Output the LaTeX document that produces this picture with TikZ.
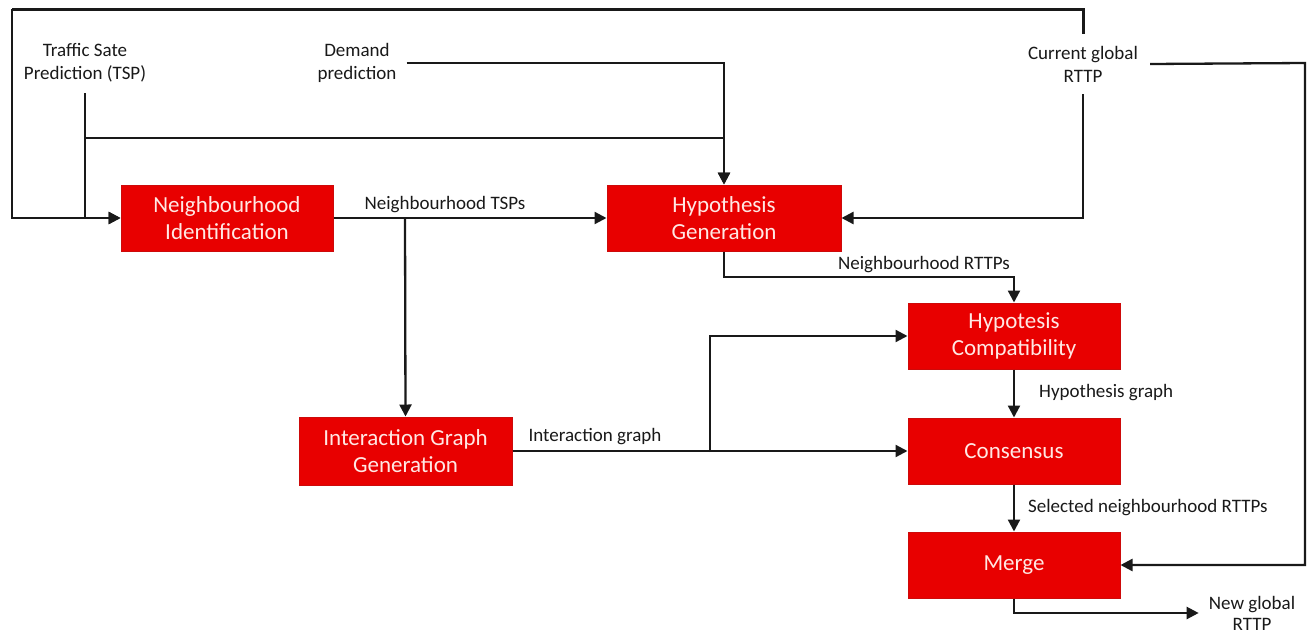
\documentclass[tikz,border=0pt]{standalone}
\usepackage{fontspec}
\setmainfont{Carlito}
\usetikzlibrary{arrows.meta}
\definecolor{boxred}{RGB}{232,0,0}
\definecolor{boxedge}{RGB}{205,10,10}
\definecolor{boxtext}{RGB}{255,232,228}
\definecolor{ink}{RGB}{25,25,25}
\begin{document}
\begin{tikzpicture}[x=1pt,y=-1pt,
  stage/.style={rectangle,fill=boxred,draw=boxedge,line width=1pt,
    text=boxtext,align=center,inner sep=0pt,
    font=\fontsize{23}{27}\selectfont},
  note/.style={align=center,text=ink,inner sep=0pt,
    font=\fontsize{19}{23}\selectfont},
  flow/.style={draw=ink,line width=2.3pt},
  arr/.style={flow,-{Triangle[length=12pt,width=12pt]}},
  loopline/.style={draw=ink,line width=3pt}
]
\useasboundingbox (0,0) rectangle (1312,635);
\fill[white] (0,0) rectangle (1312,635);

% processing stages
\node[stage,minimum width=212pt,minimum height=66pt] (ni) at (227,218) {Neighbourhood\\Identification};
\node[stage,minimum width=234pt,minimum height=66pt] (hg) at (724,218) {Hypothesis\\Generation};
\node[stage,minimum width=213pt,minimum height=68pt] (ig) at (405.5,451) {Interaction Graph\\Generation};
\node[stage,minimum width=212pt,minimum height=66pt] (hc) at (1014,336) {Hypotesis\\Compatibility};
\node[stage,minimum width=212pt,minimum height=66pt] (co) at (1014,451) {Consensus};
\node[stage,minimum width=212pt,minimum height=66pt] (me) at (1014,565) {Merge};

% inputs and output
\node[note,minimum height=60pt] (tsp) at (85,63) {Traffic Sate\\Prediction (TSP)};
\node[note,inner xsep=10pt] (dem) at (357,63) {Demand\\prediction};
\node[note,minimum height=60pt,inner xsep=12pt] (cur) at (1083,64) {Current global\\RTTP};
\node[note,inner xsep=10pt,font=\fontsize{19}{21}\selectfont] (newg) at (1252,613) {New global\\RTTP};

% junctions and corners
\coordinate (tl) at (12,9);
\coordinate (j1) at (85,138);
\coordinate (j2) at (405,218);
\coordinate (j3) at (710,452);
\coordinate (rc) at (1305,63);
\coordinate (hgout) at (724,277);

% feedback of the current global RTTP
\draw[loopline] (cur.north) |- (tl);
\draw[arr] (tl) |- (ni.west);
\draw[arr] (cur.south) |- (hg.east);
\draw[arr] (cur.east) -- (rc) |- (me.east);

% traffic state and demand predictions
\draw[arr] (tsp.south) |- (ni.west);
\draw[arr] (j1) -| (hg.north);
\draw[arr] (dem.east) -| (hg.north);

% main flow
\draw[arr] (ni.east) -- (hg.west);
\draw[arr] (j2) -- (ig.north);
\draw[arr] (hg.south) -- (hgout) -| (hc.north);
\draw[arr] (ig.east) -- (co.west);
\draw[arr] (j3) |- (hc.west);
\draw[arr] (hc.south) -- (co.north);
\draw[arr] (co.south) -- (me.north);
\draw[arr] (me.south) |- (newg.west);

% connector labels
\node[note] (lntsp) at (445,205) {Neighbourhood TSPs};
\node[note] (lnrttp) at (924,265) {Neighbourhood RTTPs};
\node[note] (lig) at (595,437) {Interaction graph};
\node[note,anchor=west] (lhg) at (1039,393) {Hypothesis graph};
\node[note,anchor=west] (lsel) at (1028,508) {Selected neighbourhood RTTPs};
\end{tikzpicture}
\end{document}
